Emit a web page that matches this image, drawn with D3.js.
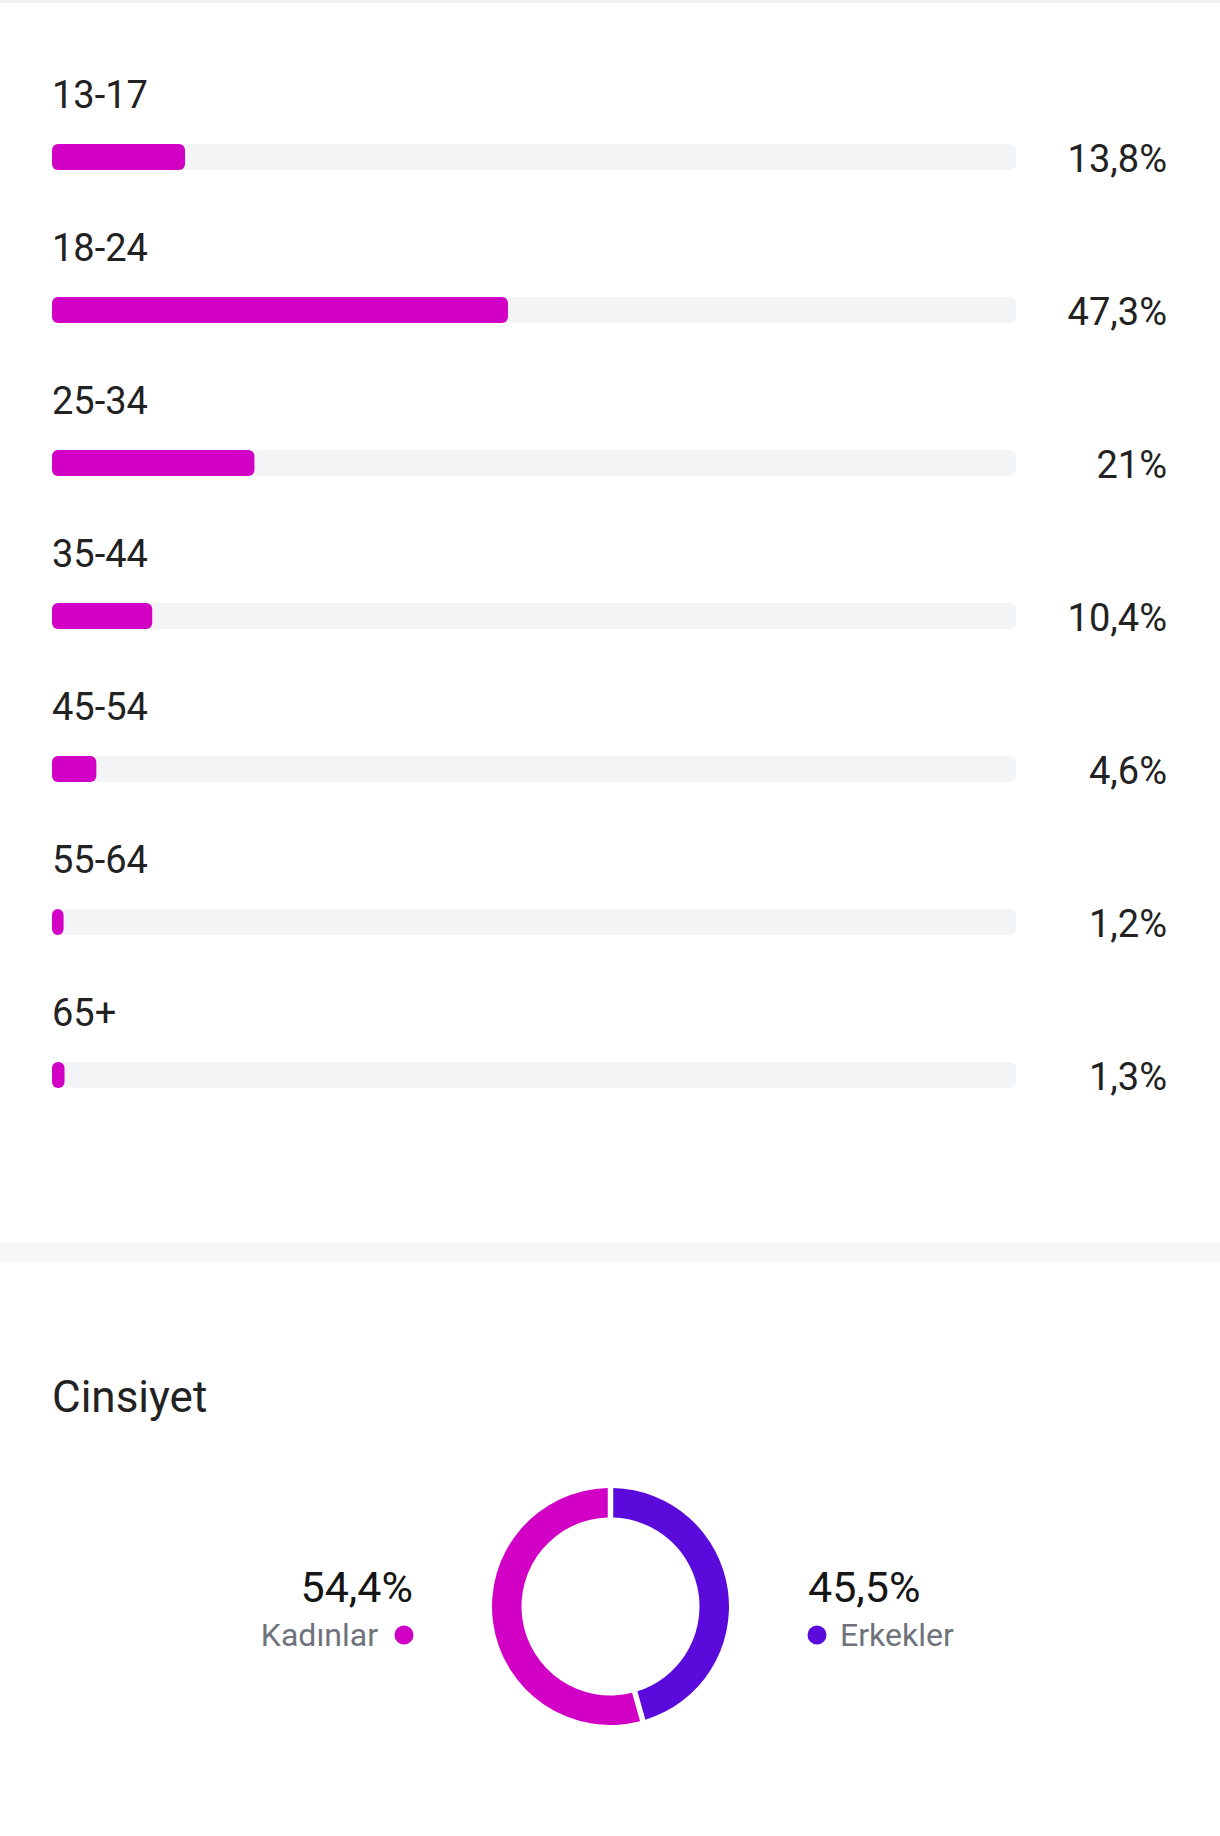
<!DOCTYPE html>
<html>
<head>
<meta charset="utf-8">
<script src="https://cdn.jsdelivr.net/npm/d3@7"></script>
<style>
	body { margin: 0; background: #fff; }
	svg { display: block; font-family: Roboto, 'Noto Sans', sans-serif; }
</style>
</head>
<body>
<div id="chart"></div>
<script>
// Age groups (Yaş)
const ageGroups = ['13-17', '18-24', '25-34', '35-44', '45-54', '55-64', '65+'];
const agePct = [13.8, 47.3, 21, 10.4, 4.6, 1.2, 1.3];

// Gender (Cinsiyet)
const genderTitle = 'Cinsiyet';
const genders = ['Kadınlar', 'Erkekler'];
const genderPct = [54.4, 45.5];

const width = 1220;
const height = 1836;

const magenta = '#d100c4';
const purple = '#5a0adb';
const textDark = '#222222';
const textGrey = '#6e737b';

// Turkish number format: comma as decimal separator
const trLocale = d3.formatLocale({decimal: ',', thousands: '.', grouping: [3], currency: ['', '₺']});
const fmtPct = (v) => trLocale.format('.1~f')(v) + '%';

const svg = d3.select('#chart').append('svg').attr('width', width).attr('height', height);

// top divider and section separator
svg.append('rect').attr('x', 0).attr('y', 0).attr('width', width).attr('height', 3).attr('fill', '#eef1f3');
svg.append('rect').attr('x', 0).attr('y', 1243).attr('width', width).attr('height', 20).attr('fill', '#f6f7f8');

// ---- age bars ----
const x = d3.scaleLinear().domain([0, 100]).range([52, 1016]);
const y = d3
	.scaleBand()
	.domain(ageGroups)
	.range([60, 60 + ageGroups.length * 153])
	.paddingInner(0);

const barH = 26;

const rows = svg
	.selectAll('g.row')
	.data(ageGroups.map((g, i) => ({group: g, value: agePct[i]})))
	.enter()
	.append('g')
	.attr('class', 'row')
	.attr('transform', (d) => `translate(0, ${y(d.group)})`);

rows
	.append('text')
	.attr('x', x(0))
	.attr('y', 48)
	.attr('fill', textDark)
	.style('font-size', '38px')
	.text((d) => d.group);

// track
rows
	.append('rect')
	.attr('x', x(0))
	.attr('y', 84)
	.attr('width', x(100) - x(0))
	.attr('height', barH)
	.attr('rx', 6)
	.attr('fill', '#f3f4f6');

// value bar
rows
	.append('rect')
	.attr('x', x(0))
	.attr('y', 84)
	.attr('width', (d) => x(d.value) - x(0))
	.attr('height', barH)
	.attr('rx', 6)
	.attr('fill', magenta);

rows
	.append('text')
	.attr('x', 1167)
	.attr('y', 112)
	.attr('text-anchor', 'end')
	.attr('fill', textDark)
	.style('font-size', '38px')
	.text((d) => fmtPct(d.value));

// ---- gender donut ----
svg
	.append('text')
	.attr('x', 52)
	.attr('y', 1412)
	.attr('fill', textDark)
	.style('font-size', '44px')
	.text(genderTitle);

const cx = 610.5;
const cy = 1606.5;
const outerR = 118.5;
const innerR = 89;

const genderData = genders.map((g, i) => ({label: g, value: genderPct[i], colour: i === 0 ? magenta : purple}));

// first slice runs anticlockwise from the top, second fills the rest
const pie = d3
	.pie()
	.value((d) => d.value)
	.sort(null)
	.startAngle(0)
	.endAngle(-2 * Math.PI)
	.padAngle(5.5 / outerR);

const arc = d3.arc().innerRadius(innerR).outerRadius(outerR).padRadius(outerR);

svg
	.append('g')
	.attr('transform', `translate(${cx}, ${cy})`)
	.selectAll('path')
	.data(pie(genderData))
	.enter()
	.append('path')
	.attr('d', arc)
	.attr('fill', (d) => d.data.colour);

// legend: left (Kadınlar) and right (Erkekler)
const legend = [
	{anchor: 'end', valueX: 413, dotX: 404, labelX: 378},
	{anchor: 'start', valueX: 808, dotX: 817, labelX: 840}
];

genderData.forEach((d, i) => {
	const l = legend[i];
	svg
		.append('text')
		.attr('x', l.valueX)
		.attr('y', 1602)
		.attr('text-anchor', l.anchor)
		.attr('fill', '#151515')
		.style('font-size', '43px')
		.text(fmtPct(d.value));
	svg.append('circle').attr('cx', l.dotX).attr('cy', 1635).attr('r', 9.5).attr('fill', d.colour);
	svg
		.append('text')
		.attr('x', l.labelX)
		.attr('y', 1646)
		.attr('text-anchor', l.anchor)
		.attr('fill', textGrey)
		.style('font-size', '32px')
		.text(d.label);
});
</script>
</body>
</html>
